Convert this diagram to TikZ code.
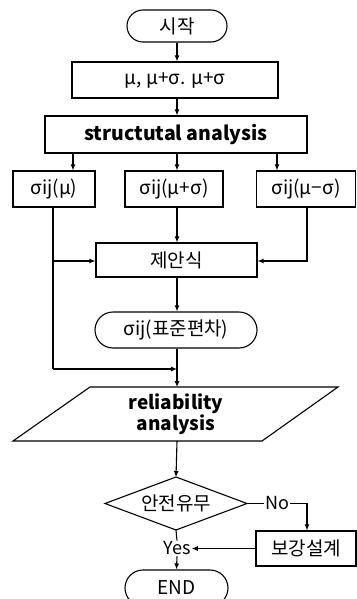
\documentclass[tikz,border=0pt]{standalone}
\usepackage{fontspec}
\setmainfont{Noto Sans CJK KR}
\usetikzlibrary{shapes.misc,arrows.meta}
\begin{document}
\begin{tikzpicture}[x=1pt,y=-1pt,
  every node/.style={font=\fontsize{19}{21}\selectfont},
  kr/.style={font=\fontsize{19}{21}\selectfont},
  bf/.style={font=\bfseries\fontsize{19.5}{22}\selectfont},
  box/.style={draw,line width=1.1pt,inner sep=0pt},
  stad/.style={draw,line width=1.1pt,rounded rectangle,inner sep=0pt},
  line/.style={line width=1.1pt},
  arr/.style={line width=1.1pt,-{Latex[length=6pt,width=5pt]}}]
\useasboundingbox (0,0) rectangle (356,599);
\node[stad,kr,minimum width=100pt,minimum height=32pt] (start) at (177,26) {시작};
\node[box,minimum width=206pt,minimum height=36pt] (init) at (175,80) {μ, μ+σ. μ+σ};
\node[box,bf,minimum width=262pt,minimum height=37pt] (sa) at (176,134.5) {structutal analysis};
\node[box,minimum width=82pt,minimum height=36pt] (b1) at (54,189) {σij(μ)};
\node[box,minimum width=98pt,minimum height=36pt] (b2) at (174,189) {σij(μ+σ)};
\node[box,minimum width=99pt,minimum height=36pt] (b3) at (306,189) {σij(μ−σ)};
\node[box,kr,minimum width=161pt,minimum height=34pt] (prop) at (176.5,260) {제안식};
\node[stad,minimum width=162pt,minimum height=36pt] (sd) at (176,330) {σij(표준편차)};
\draw[line width=1.1pt] (90,387) -- (338,387) -- (262,441) -- (13,441) -- cycle;
\node[align=center,font=\bfseries\fontsize{19}{21}\selectfont] (rel) at (176,414) {reliability\\analysis};
\coordinate (reltop) at (177,387);
\coordinate (relbot) at (177,441);
\coordinate (dtop) at (176,477);
\coordinate (dright) at (247,503.5);
\coordinate (dbot) at (176,530);
\coordinate (dleft) at (105,503.5);
\draw[line width=1.1pt] (dtop) -- (dright) -- (dbot) -- (dleft) -- cycle;
\node[kr] (dec) at (176,503.5) {안전유무};
\node[inner sep=1pt,font=\fontsize{18}{20}\selectfont] (no) at (277,503.5) {No};
\node[box,kr,minimum width=100pt,minimum height=35pt] (reinf) at (306,548.5) {보강설계};
\node[inner sep=1pt,font=\fontsize{18}{20}\selectfont] (yes) at (177,548.5) {Yes};
\node[stad,minimum width=103pt,minimum height=36pt] (end) at (176.5,588) {END};
% connectors
\draw[arr] (start.south) -- (init.north -| start.south);
\draw[arr] (init.south -| start.south) -- (sa.north -| start.south);
\draw[arr] (sa.south -| 73,0) -- (b1.north -| 73,0);
\draw[arr] (sa.south -| 177,0) -- (b2.north -| 177,0);
\draw[arr] (sa.south -| 277,0) -- (b3.north -| 277,0);
\draw[arr] (b2.south -| 177,0) -- (prop.north -| 177,0);
\draw[line] (b1.south -| 53,0) -- (53,369);
\draw[arr] (53,369) -- (177,369);
\draw[arr] (53,261) -- (prop.west |- 0,261);
\draw[arr] (b3.south -| 307,0) |- (prop.east |- 0,261);
\draw[arr] (prop.south -| 177,0) -- (sd.north -| 177,0);
\draw[arr] (sd.south -| 177,0) -- (reltop);
\draw[arr] (relbot) -- (dtop);
\draw[line] (dright) -- (no.west);
\draw[arr] (no.east) -| (reinf.north -| 307,0);
\draw[arr] (reinf.west) -- (yes.east);
\draw[line] (dbot) -- (yes.north);
\draw[arr] (yes.south) -- (end.north);
\end{tikzpicture}
\end{document}
